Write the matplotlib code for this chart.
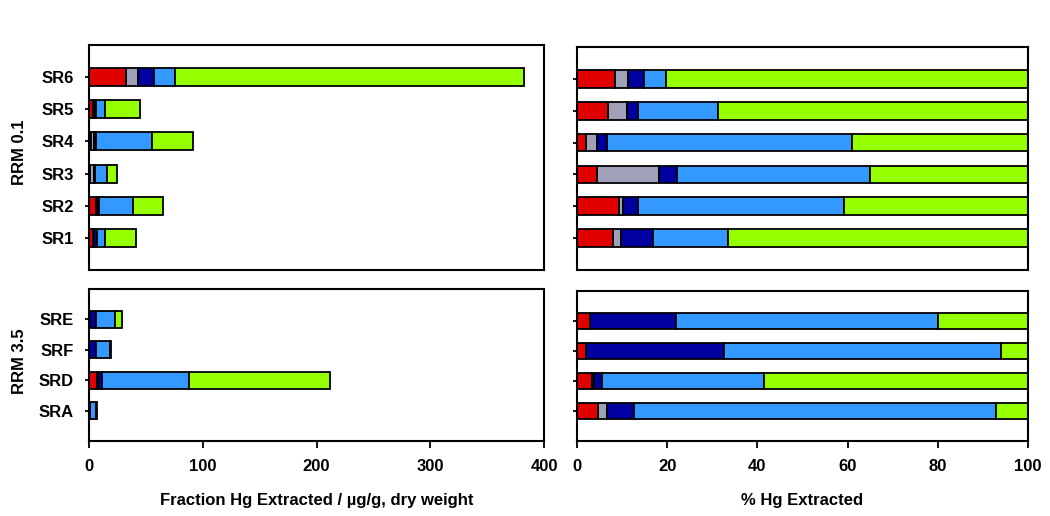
import numpy as np
import matplotlib.pyplot as plt

plt.rcParams['font.family'] = ['Liberation Sans', 'DejaVu Sans']
plt.rcParams['font.weight'] = 'bold'
plt.rcParams['axes.labelweight'] = 'bold'

# Hg fractions F1..F5 of the sequential extraction, in ug/g dry weight
fraction_colors = ["#E00000", "#A0A0B8", "#0000A0", "#3399FF", "#96FF00"]

rrm01_samples = ["SR1", "SR2", "SR3", "SR4", "SR5", "SR6"]
rrm01_f1 = [3.3, 6.1, 1.1, 1.8, 3.1, 32.5]
rrm01_f2 = [0.7, 0.6, 3.4, 2.2, 1.9, 10.7]
rrm01_f3 = [2.9, 2.2, 1.0, 2.1, 1.1, 13.8]
rrm01_f4 = [6.8, 29.7, 10.7, 49.4, 7.9, 18.3]
rrm01_f5 = [27.3, 26.7, 8.7, 35.5, 30.8, 306.7]

rrm35_samples = ["SRA", "SRD", "SRF", "SRE"]
rrm35_f1 = [0.31, 7.2, 0.4, 0.8]
rrm35_f2 = [0.13, 0.6, 0.0, 0.0]
rrm35_f3 = [0.41, 3.8, 6.0, 5.5]
rrm35_f4 = [5.4, 76.3, 12.1, 16.7]
rrm35_f5 = [0.47, 124.0, 1.2, 5.7]

W, H = 1050, 516


def px_box(x0, y0, x1, y1):
    return [x0 / W, 1 - y1 / H, (x1 - x0) / W, (y1 - y0) / H]


def stacked(ax, samples, fractions, percent=False):
    data = np.array(fractions, dtype=float)
    if percent:
        data = data / data.sum(axis=0) * 100
    y = np.arange(len(samples))
    left = np.zeros(len(samples))
    for vals, col in zip(data, fraction_colors):
        ax.barh(y, vals, left=left, height=0.56, color=col,
                edgecolor="black", linewidth=1.3)
        left += vals
    ax.set_ylim(-1, len(samples))
    ax.set_yticks(y)
    ax.tick_params(axis="y", length=3, width=1.3, direction="out", pad=8)
    ax.tick_params(axis="x", length=5, width=1.3, direction="out", pad=8,
                   labelsize=12)
    for sp in ax.spines.values():
        sp.set_linewidth(1.5)


fig = plt.figure(figsize=(W / 100, H / 100), dpi=100)

ax_tl = fig.add_axes(px_box(89, 45, 544, 270))
ax_bl = fig.add_axes(px_box(89, 289, 544, 441))
ax_tr = fig.add_axes(px_box(577, 47, 1028, 270))
ax_br = fig.add_axes(px_box(577, 291, 1028, 441))

rrm01 = [rrm01_f1, rrm01_f2, rrm01_f3, rrm01_f4, rrm01_f5]
rrm35 = [rrm35_f1, rrm35_f2, rrm35_f3, rrm35_f4, rrm35_f5]

stacked(ax_tl, rrm01_samples, rrm01)
stacked(ax_bl, rrm35_samples, rrm35)
stacked(ax_tr, rrm01_samples, rrm01, percent=True)
stacked(ax_br, rrm35_samples, rrm35, percent=True)

for ax in (ax_tl, ax_bl):
    ax.set_xlim(0, 400)
for ax in (ax_tr, ax_br):
    ax.set_xlim(0, 100)

ax_tl.set_yticklabels(rrm01_samples, fontsize=12)
ax_bl.set_yticklabels(rrm35_samples, fontsize=12)
ax_tr.set_yticklabels([])
ax_br.set_yticklabels([])

for ax in (ax_tl, ax_tr):
    ax.set_xticks([])

ax_bl.set_xticks([0, 100, 200, 300, 400])
ax_br.set_xticks([0, 20, 40, 60, 80, 100])

ax_bl.set_xlabel("Fraction Hg Extracted / µg/g, dry weight", fontsize=12,
                 labelpad=14)
ax_br.set_xlabel("% Hg Extracted", fontsize=12, labelpad=14)

fig.text(19 / W, 1 - 152 / H, "RRM 0.1", rotation=90, ha="center",
         va="center", fontsize=12)
fig.text(19 / W, 1 - 361 / H, "RRM 3.5", rotation=90, ha="center",
         va="center", fontsize=12)

fig.savefig("out.png", dpi=100)
